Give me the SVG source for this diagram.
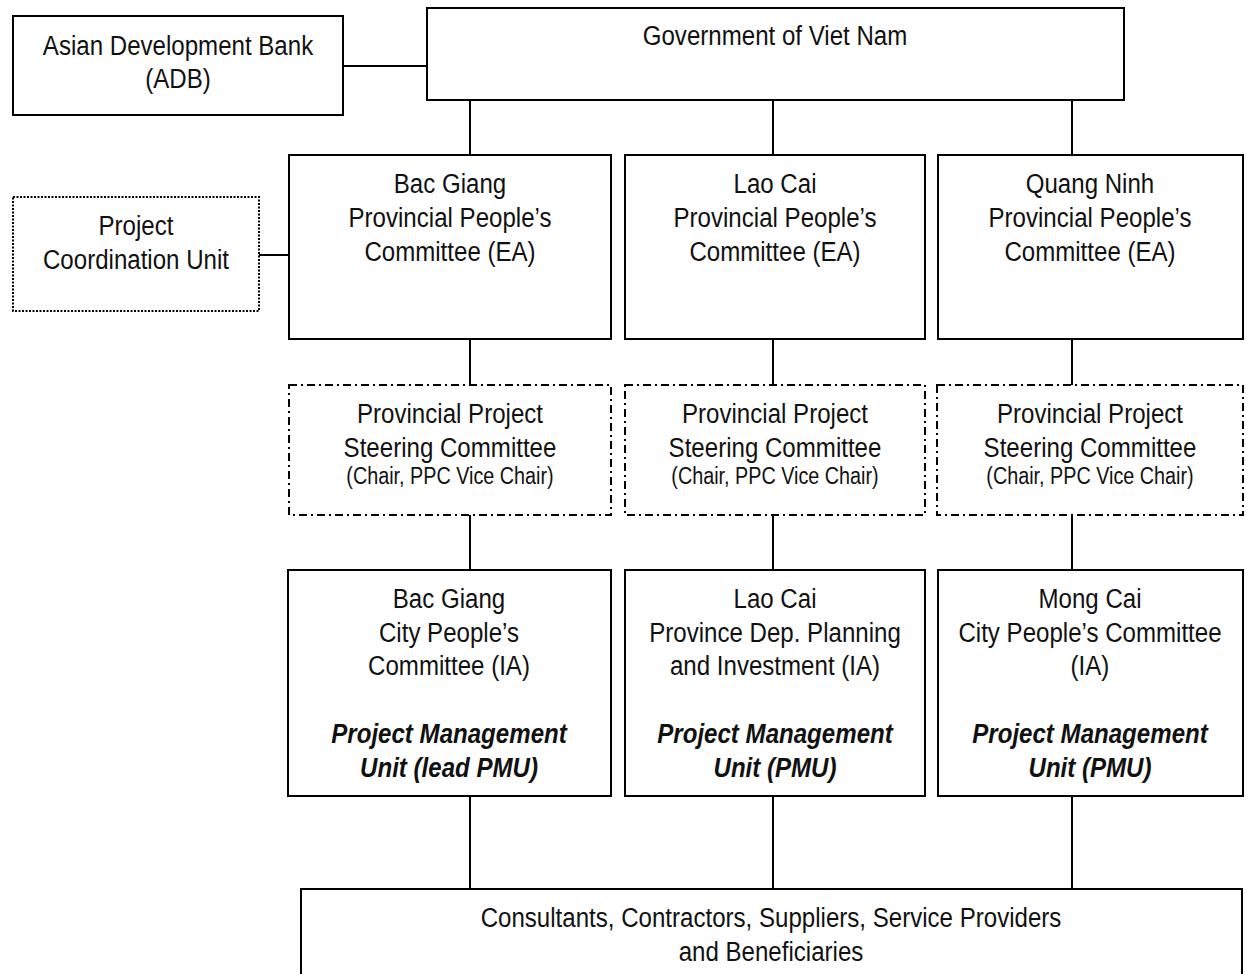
<svg xmlns="http://www.w3.org/2000/svg" width="1246" height="974" viewBox="0 0 1246 974">
<style>
  .box { fill: #fff; stroke: #000; stroke-width: 2; }
  .dashdot { fill: #fff; stroke: #000; stroke-width: 2; stroke-dasharray: 8 4 2 4; }
  .dotted { fill: #fff; stroke: #000; stroke-width: 2; stroke-dasharray: 2 1.5; }
  .conn { stroke: #000; stroke-width: 2; fill: none; }
  text { font-family: "Liberation Sans", Arial, sans-serif; font-size: 28px; fill: #111; text-anchor: middle; }
  .small { font-size: 23px; }
  .bi { font-weight: bold; font-style: italic; }
</style>
<rect width="1246" height="974" fill="#fff"/>
<g id="connectors">
  <line class="conn" x1="343" y1="66" x2="427" y2="66"/>
  <line class="conn" x1="259" y1="255" x2="289" y2="255"/>
  <line class="conn" x1="470" y1="100" x2="470" y2="155"/>
  <line class="conn" x1="773" y1="100" x2="773" y2="155"/>
  <line class="conn" x1="1072" y1="100" x2="1072" y2="155"/>
  <line class="conn" x1="470" y1="339" x2="470" y2="385"/>
  <line class="conn" x1="773" y1="339" x2="773" y2="385"/>
  <line class="conn" x1="1072" y1="339" x2="1072" y2="385"/>
  <line class="conn" x1="470" y1="515" x2="470" y2="570"/>
  <line class="conn" x1="773" y1="515" x2="773" y2="570"/>
  <line class="conn" x1="1072" y1="515" x2="1072" y2="570"/>
  <line class="conn" x1="470" y1="796" x2="470" y2="889"/>
  <line class="conn" x1="773" y1="796" x2="773" y2="889"/>
  <line class="conn" x1="1072" y1="796" x2="1072" y2="889"/>
</g>
<g id="adb">
  <rect class="box" x="13" y="16" width="330" height="99"/>
  <text transform="translate(178 55) scale(0.86 1)">Asian Development Bank</text>
  <text transform="translate(178 88) scale(0.86 1)">(ADB)</text>
</g>
<g id="gov">
  <rect class="box" x="427" y="8" width="697" height="92"/>
  <text transform="translate(775 45) scale(0.86 1)">Government of Viet Nam</text>
</g>
<g id="pcu">
  <rect class="dotted" x="13" y="197" width="246" height="114"/>
  <text transform="translate(136 235) scale(0.86 1)">Project</text>
  <text transform="translate(136 269) scale(0.86 1)">Coordination Unit</text>
</g>
<g id="ea-bacgiang">
  <rect class="box" x="289" y="155" width="322" height="184"/>
  <text transform="translate(450 193) scale(0.86 1)">Bac Giang</text>
  <text transform="translate(450 227) scale(0.86 1)">Provincial People’s</text>
  <text transform="translate(450 261) scale(0.86 1)">Committee (EA)</text>
</g>
<g id="ea-laocai">
  <rect class="box" x="625" y="155" width="300" height="184"/>
  <text transform="translate(775 193) scale(0.86 1)">Lao Cai</text>
  <text transform="translate(775 227) scale(0.86 1)">Provincial People’s</text>
  <text transform="translate(775 261) scale(0.86 1)">Committee (EA)</text>
</g>
<g id="ea-quangninh">
  <rect class="box" x="938" y="155" width="305" height="184"/>
  <text transform="translate(1090 193) scale(0.86 1)">Quang Ninh</text>
  <text transform="translate(1090 227) scale(0.86 1)">Provincial People’s</text>
  <text transform="translate(1090 261) scale(0.86 1)">Committee (EA)</text>
</g>
<g id="psc-bacgiang">
  <rect class="dashdot" x="289" y="385" width="322" height="130"/>
  <text transform="translate(450 423) scale(0.86 1)">Provincial Project</text>
  <text transform="translate(450 457) scale(0.86 1)">Steering Committee</text>
  <text class="small" transform="translate(450 484) scale(0.86 1)">(Chair, PPC Vice Chair)</text>
</g>
<g id="psc-laocai">
  <rect class="dashdot" x="625" y="385" width="300" height="130"/>
  <text transform="translate(775 423) scale(0.86 1)">Provincial Project</text>
  <text transform="translate(775 457) scale(0.86 1)">Steering Committee</text>
  <text class="small" transform="translate(775 484) scale(0.86 1)">(Chair, PPC Vice Chair)</text>
</g>
<g id="psc-quangninh">
  <rect class="dashdot" x="937" y="385" width="306" height="130"/>
  <text transform="translate(1090 423) scale(0.86 1)">Provincial Project</text>
  <text transform="translate(1090 457) scale(0.86 1)">Steering Committee</text>
  <text class="small" transform="translate(1090 484) scale(0.86 1)">(Chair, PPC Vice Chair)</text>
</g>
<g id="ia-bacgiang">
  <rect class="box" x="288" y="570" width="323" height="226"/>
  <text transform="translate(449 608) scale(0.86 1)">Bac Giang</text>
  <text transform="translate(449 642) scale(0.86 1)">City People’s</text>
  <text transform="translate(449 675) scale(0.86 1)">Committee (IA)</text>
  <text class="bi" transform="translate(449 743) scale(0.86 1)">Project Management</text>
  <text class="bi" transform="translate(449 777) scale(0.86 1)">Unit (lead PMU)</text>
</g>
<g id="ia-laocai">
  <rect class="box" x="625" y="570" width="300" height="226"/>
  <text transform="translate(775 608) scale(0.86 1)">Lao Cai</text>
  <text transform="translate(775 642) scale(0.86 1)">Province Dep. Planning</text>
  <text transform="translate(775 675) scale(0.86 1)">and Investment (IA)</text>
  <text class="bi" transform="translate(775 743) scale(0.86 1)">Project Management</text>
  <text class="bi" transform="translate(775 777) scale(0.86 1)">Unit (PMU)</text>
</g>
<g id="ia-mongcai">
  <rect class="box" x="938" y="570" width="305" height="226"/>
  <text transform="translate(1090 608) scale(0.86 1)">Mong Cai</text>
  <text transform="translate(1090 642) scale(0.86 1)">City People’s Committee</text>
  <text transform="translate(1090 675) scale(0.86 1)">(IA)</text>
  <text class="bi" transform="translate(1090 743) scale(0.86 1)">Project Management</text>
  <text class="bi" transform="translate(1090 777) scale(0.86 1)">Unit (PMU)</text>
</g>
<g id="consultants">
  <rect class="box" x="301" y="889" width="941" height="100"/>
  <text transform="translate(771 927) scale(0.86 1)">Consultants, Contractors, Suppliers, Service Providers</text>
  <text transform="translate(771 961) scale(0.86 1)">and Beneficiaries</text>
</g>
</svg>
